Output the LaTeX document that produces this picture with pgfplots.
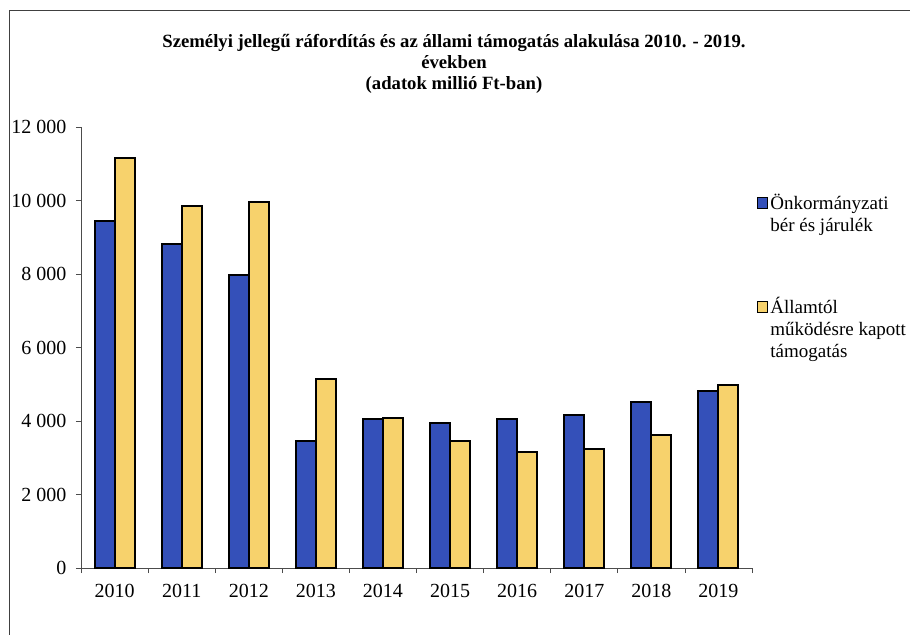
\documentclass[border=0pt]{standalone}
\usepackage{fontspec}
\setmainfont{Liberation Serif}
\usepackage{pgfplots}
\pgfplotsset{compat=1.18}
\definecolor{barblue}{RGB}{52,80,185}
\definecolor{baryellow}{RGB}{247,210,108}

\begin{document}
\begin{tikzpicture}
  % outer frame of the embedded chart
  \draw[line width=1pt, black!75] (9bp,-640bp) -- (9bp,-10bp) -- (915bp,-10bp);

  \node[align=center, font=\bfseries\fontsize{18.7bp}{21bp}\selectfont] at (454bp,-64bp)
    {Személyi jellegű ráfordítás és az állami támogatás alakulása 2010. - 2019.\\években\\(adatok millió Ft-ban)};

  \begin{axis}[
      at={(81bp,-568bp)}, anchor=south west,
      scale only axis, width=671bp, height=441bp,
      ybar=0pt, bar width=20bp,
      xmin=-0.5, xmax=9.5, ymin=0, ymax=12000,
      axis lines*=left,
      axis line style={black!70, line width=0.8pt},
      tick align=outside, major tick length=5bp,
      tick style={black!70, line width=0.8pt},
      xtick={-0.5,0.5,...,9.5}, xticklabels={},
      extra x ticks={0,...,9},
      extra x tick labels={2010,2011,2012,2013,2014,2015,2016,2017,2018,2019},
      extra x tick style={major tick length=0pt},
      xticklabel style={yshift=-13bp},
      ytick={0,2000,...,12000},
      scaled y ticks=false,
      ticklabel style={font=\fontsize{20bp}{24bp}\selectfont},
      yticklabel style={xshift=-6bp},
      /pgf/number format/.cd, 1000 sep={\ }, assume math mode=true,
      /pgfplots/.cd,
      legend style={at={(1.0075,0.853)}, anchor=north west, draw=none, fill=none,
        inner sep=0pt, row sep=82bp,
        font=\fontsize{19bp}{22bp}\selectfont,
        cells={anchor=base west}},
      legend image code/.code={\draw[#1, line width=1.2pt] (0bp,1bp) rectangle (10bp,12bp);},
    ]
    \addplot[draw=black, line width=2pt, fill=barblue] coordinates
      {(0,9430) (1,8810) (2,7960) (3,3450) (4,4060) (5,3935) (6,4045) (7,4170) (8,4520) (9,4825)};
    \addlegendentry{\begin{tabular}[t]{@{}l@{}}Önkormányzati\\bér és járulék\end{tabular}}
    \addplot[draw=black, line width=2pt, fill=baryellow] coordinates
      {(0,11150) (1,9845) (2,9955) (3,5140) (4,4070) (5,3465) (6,3170) (7,3225) (8,3620) (9,4970)};
    \addlegendentry{\begin{tabular}[t]{@{}l@{}}Államtól\\működésre kapott\\támogatás\end{tabular}}
  \end{axis}

  \pgfresetboundingbox
  \path[use as bounding box] (0bp,0bp) rectangle (910bp,-635bp);
\end{tikzpicture}
\end{document}
